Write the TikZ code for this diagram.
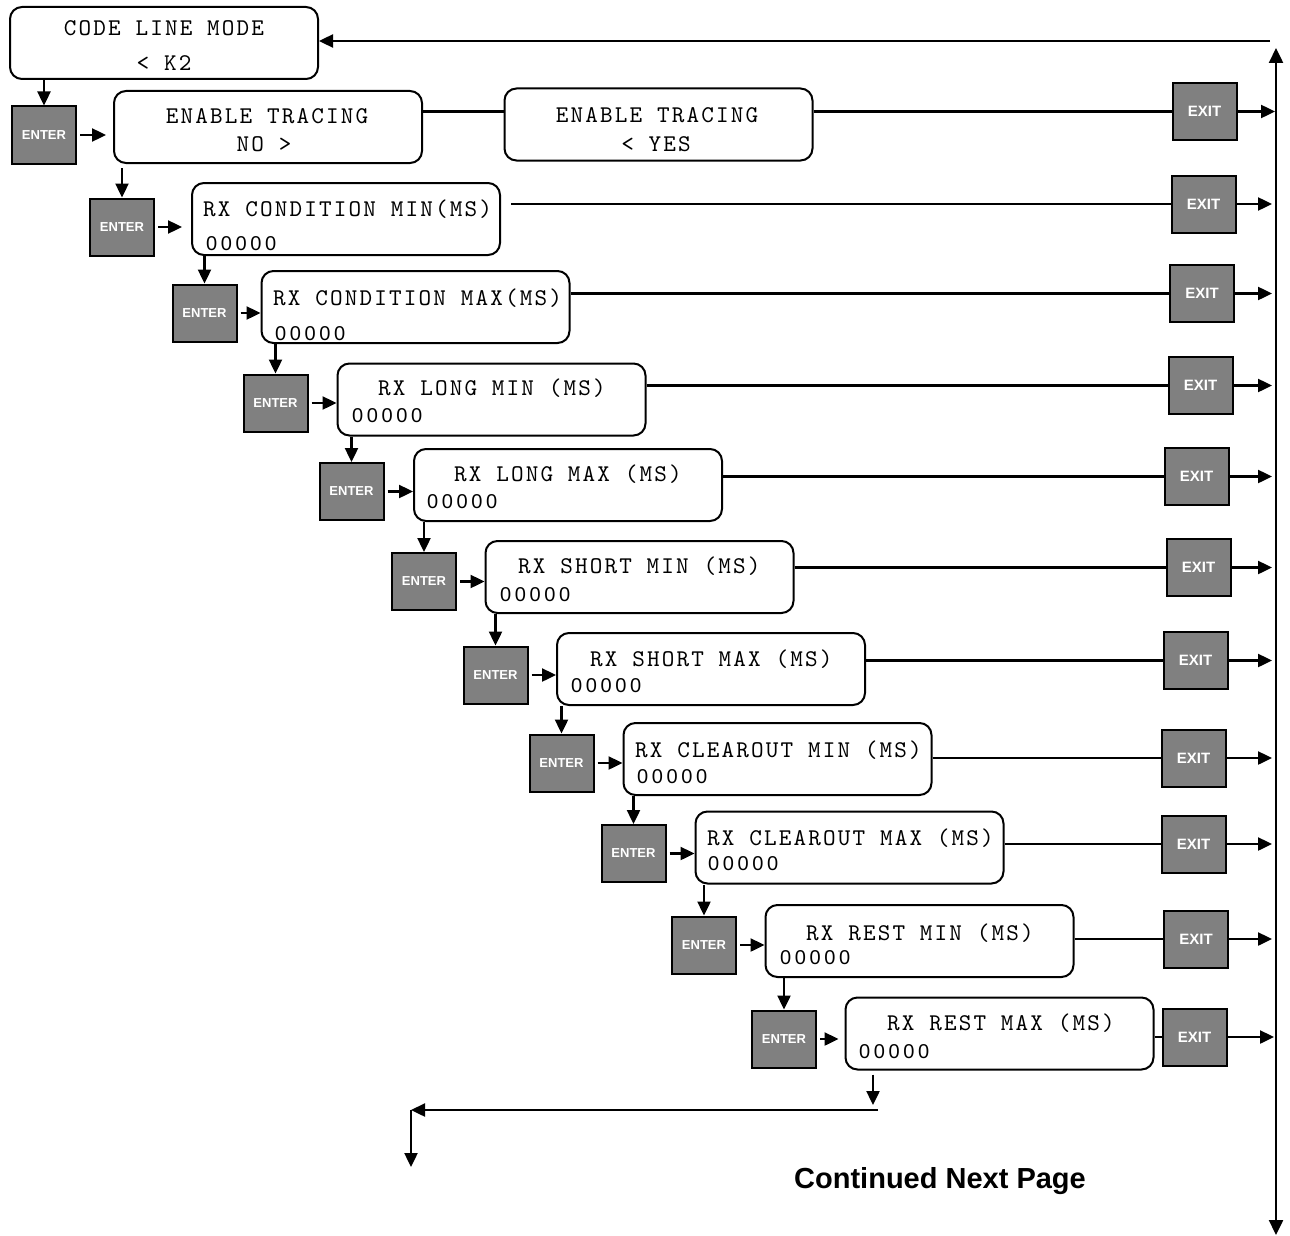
\documentclass[tikz,border=0pt]{standalone}
\usepackage{fontspec}
\setmainfont{Liberation Sans}
\setsansfont{Liberation Sans}
\newfontfamily\digitfont[LetterSpace=18]{Liberation Sans}
\newfontfamily\panelfont[LetterSpace=9]{lmmono10-regular.otf}
\usepackage{tikz}
\usetikzlibrary{arrows.meta,positioning,calc}
\definecolor{keygray}{RGB}{128,128,128}

\begin{document}
\begin{tikzpicture}[x=1pt, y=-1pt,
    disp/.style={draw, line width=2pt, rounded corners=12pt, minimum width=308pt,
      minimum height=72pt, inner sep=0pt},
    keybox/.style={draw, line width=2pt, fill=keygray, text=white,
      minimum width=64pt, minimum height=57pt, inner sep=0pt},
    enterkey/.style={keybox, font=\sffamily\bfseries\fontsize{13}{13}\selectfont},
    exitkey/.style={keybox, font=\sffamily\bfseries\fontsize{15}{15}\selectfont},
    ttl/.style={font=\panelfont\fontsize{24}{24}\selectfont,
      inner sep=0pt, anchor=base west},
    ctr/.style={ttl, anchor=base},
    val/.style={font=\digitfont\fontsize{20}{20}\selectfont, inner sep=0pt,
      anchor=base west},
    arr/.style={-{Triangle[length=14pt, width=13pt]}, line width=2.4pt},
    ln/.style={line width=2.4pt},
  ]
    \useasboundingbox (0,0) rectangle (1290,1236);

    % --- return rail ---
    \coordinate (railtop) at (1276,48);
    \coordinate (railbot) at (1276,1235);
    \coordinate (ret) at (1270,41);
    \draw[{Triangle[length=15pt, width=14pt]}-{Triangle[length=15pt, width=14pt]}, ln]
      (railtop) -- (railbot);

    % --- code line mode ---
    \node[disp] (code) at (164,43) {};
    \node[ctr] (code-t1) at (164,36) {CODE LINE MODE};
    \node[ctr] (code-t2) at (164,71) {< K2};
    \draw[arr] (ret) -- (ret -| code.east);

    % --- enable tracing ---
    \node[enterkey] (e1) at (44,135) {ENTER};
    \node[disp] (trno) at (268,127) {};
    \node[ctr] (trno-t1) at (267,124) {ENABLE TRACING};
    \node[ctr] (trno-t2) at (264,151) {NO >};
    \node[disp] (tryes) at (658.5,124.5) {};
    \node[ctr] (tryes-t1) at (657,123) {ENABLE TRACING};
    \node[ctr] (tryes-t2) at (656,151) {< YES};
    \node[exitkey] (x1) at (1204.5,111.5) {EXIT};
    \draw[arr] (code.south -| e1) -- (e1.north);
    \draw[arr, shorten <=3pt, shorten >=7pt] (e1.east) -- (e1.east -| trno.west);
    \draw[ln] (trno.east |- x1) -- (tryes.west |- x1);
    \draw[ln] (tryes.east |- x1) -- (x1.west);
    \draw[arr, shorten >=1pt] (x1.east) -- (x1.east -| railtop);

    % --- rx condition min ---
    \node[enterkey] (e2) at (122,227) {ENTER};
    \node[disp] (condmin) at (346,219) {};
    \node[ttl] (condmin-t) at (203,216) {RX CONDITION MIN(MS)};
    \node[val] (condmin-v) at (206,250) {00000};
    \node[exitkey] (x2) at (1203.5,204) {EXIT};
    \draw[arr, shorten <=4pt] (trno.south -| e2) -- (e2.north);
    \draw[arr, shorten <=3pt, shorten >=9pt] (e2.east) -- (e2.east -| condmin.west);
    \draw[ln, shorten <=10pt] (x2.west -| condmin.east) -- (x2.west);
    \draw[arr, shorten >=4pt] (x2.east) -- (x2.east -| railtop);

    % --- rx condition max ---
    \node[enterkey] (e3) at (204.5,313) {ENTER};
    \node[disp] (condmax) at (415.5,307) {};
    \node[ttl] (condmax-t) at (273,305) {RX CONDITION MAX(MS)};
    \node[val] (condmax-v) at (275,340) {00000};
    \node[exitkey] (x3) at (1202,293.5) {EXIT};
    \draw[arr] (condmin.south -| e3) -- (e3.north);
    \draw[arr, shorten <=3pt] (e3.east) -- (e3.east -| condmax.west);
    \draw[ln] (x3.west -| condmax.east) -- (x3.west);
    \draw[arr, shorten >=4pt] (x3.east) -- (x3.east -| railtop);

    % --- rx long min ---
    \node[enterkey] (e4) at (275.5,403) {ENTER};
    \node[disp] (lngmin) at (491.5,399.5) {};
    \node[ttl] (lngmin-t) at (378,395) {RX LONG MIN (MS)};
    \node[val] (lngmin-v) at (352,422) {00000};
    \node[exitkey] (x4) at (1200.5,385.5) {EXIT};
    \draw[arr] (condmax.south -| e4) -- (e4.north);
    \draw[arr, shorten <=3pt] (e4.east) -- (e4.east -| lngmin.west);
    \draw[ln] (x4.west -| lngmin.east) -- (x4.west);
    \draw[arr, shorten >=4pt] (x4.east) -- (x4.east -| railtop);

    % --- rx long max ---
    \node[enterkey] (e5) at (351.5,491.5) {ENTER};
    \node[disp] (lngmax) at (568,485) {};
    \node[ttl] (lngmax-t) at (454,481) {RX LONG MAX (MS)};
    \node[val] (lngmax-v) at (427,508) {00000};
    \node[exitkey] (x5) at (1196.5,476.5) {EXIT};
    \draw[arr] (lngmin.south -| e5) -- (e5.north);
    \draw[arr, shorten <=3pt] (e5.east) -- (e5.east -| lngmax.west);
    \draw[ln] (x5.west -| lngmax.east) -- (x5.west);
    \draw[arr, shorten >=4pt] (x5.east) -- (x5.east -| railtop);

    % --- rx short min ---
    \node[enterkey] (e6) at (424,581.5) {ENTER};
    \node[disp] (shmin) at (639.5,577) {};
    \node[ttl] (shmin-t) at (518,573) {RX SHORT MIN (MS)};
    \node[val] (shmin-v) at (500,601) {00000};
    \node[exitkey] (x6) at (1198.5,567.5) {EXIT};
    \draw[arr] (lngmax.south -| e6) -- (e6.north);
    \draw[arr, shorten <=3pt] (e6.east) -- (e6.east -| shmin.west);
    \draw[ln] (x6.west -| shmin.east) -- (x6.west);
    \draw[arr, shorten >=4pt] (x6.east) -- (x6.east -| railtop);

    % --- rx short max ---
    \node[enterkey] (e7) at (495.5,675) {ENTER};
    \node[disp] (shmax) at (711,669) {};
    \node[ttl] (shmax-t) at (590,666) {RX SHORT MAX (MS)};
    \node[val] (shmax-v) at (571,692) {00000};
    \node[exitkey] (x7) at (1195.5,660.5) {EXIT};
    \draw[arr] (shmin.south -| e7) -- (e7.north);
    \draw[arr, shorten <=3pt] (e7.east) -- (e7.east -| shmax.west);
    \draw[ln] (x7.west -| shmax.east) -- (x7.west);
    \draw[arr, shorten >=4pt] (x7.east) -- (x7.east -| railtop);

    % --- rx clearout min ---
    \node[enterkey] (e8) at (561.5,763) {ENTER};
    \node[disp] (clrmin) at (777.5,759) {};
    \node[ttl] (clrmin-t) at (635,757) {RX CLEAROUT MIN (MS)};
    \node[val] (clrmin-v) at (637,783) {00000};
    \node[exitkey] (x8) at (1193.5,758) {EXIT};
    \draw[arr] (shmax.south -| e8) -- (e8.north);
    \draw[arr, shorten <=3pt] (e8.east) -- (e8.east -| clrmin.west);
    \draw[ln] (x8.west -| clrmin.east) -- (x8.west);
    \draw[arr, shorten >=4pt] (x8.east) -- (x8.east -| railtop);

    % --- rx clearout max ---
    \node[enterkey] (e9) at (633.5,853.5) {ENTER};
    \node[disp] (clrmax) at (849.5,847.5) {};
    \node[ttl] (clrmax-t) at (707,845) {RX CLEAROUT MAX (MS)};
    \node[val] (clrmax-v) at (708,870) {00000};
    \node[exitkey] (x9) at (1193.5,844) {EXIT};
    \draw[arr] (clrmin.south -| e9) -- (e9.north);
    \draw[arr, shorten <=3pt] (e9.east) -- (e9.east -| clrmax.west);
    \draw[ln] (x9.west -| clrmax.east) -- (x9.west);
    \draw[arr, shorten >=4pt] (x9.east) -- (x9.east -| railtop);

    % --- rx rest min ---
    \node[enterkey] (e10) at (704,945) {ENTER};
    \node[disp] (rstmin) at (919.5,941) {};
    \node[ttl] (rstmin-t) at (806,940) {RX REST MIN (MS)};
    \node[val] (rstmin-v) at (780,964) {00000};
    \node[exitkey] (x10) at (1196,939) {EXIT};
    \draw[arr] (clrmax.south -| e10) -- (e10.north);
    \draw[arr, shorten <=3pt] (e10.east) -- (e10.east -| rstmin.west);
    \draw[ln] (x10.west -| rstmin.east) -- (x10.west);
    \draw[arr, shorten >=4pt] (x10.east) -- (x10.east -| railtop);

    % --- rx rest max ---
    \node[enterkey] (e11) at (784,1039) {ENTER};
    \node[disp] (rstmax) at (999.5,1033.5) {};
    \node[ttl] (rstmax-t) at (887,1030) {RX REST MAX (MS)};
    \node[val] (rstmax-v) at (859,1058) {00000};
    \node[exitkey] (x11) at (1194.5,1037) {EXIT};
    \draw[arr] (rstmin.south -| e11) -- (e11.north);
    \draw[arr, shorten <=3pt, shorten >=6pt] (e11.east) -- (e11.east -| rstmax.west);
    \draw[ln] (x11.west -| rstmax.east) -- (x11.west);
    \draw[arr, shorten >=2pt] (x11.east) -- (x11.east -| railtop);

    % --- on to next page ---
    \coordinate (nxt-a) at (873,1105);
    \coordinate (nxt-r) at (878,1110);
    \coordinate (nxt-l) at (411,1110);
    \coordinate (nxt-d) at (411,1167);
    \draw[arr, shorten <=4pt] (rstmax.south -| nxt-a) -- (nxt-a);
    \draw[arr] (nxt-r) -- (nxt-l);
    \draw[arr] (nxt-l) -- (nxt-d);
    \node[font=\sffamily\bfseries\fontsize{29}{29}\selectfont, anchor=base]
      (cont) at (940,1188) {Continued Next Page};
  \end{tikzpicture}
\end{document}
